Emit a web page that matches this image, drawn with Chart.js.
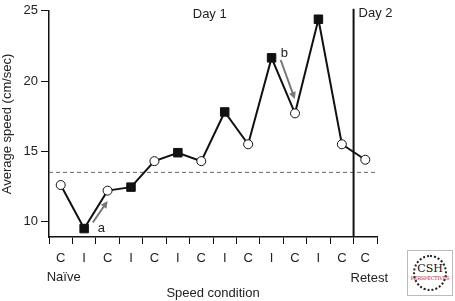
<!DOCTYPE html>
<html>
<head>
<meta charset="utf-8">
<script src="https://cdn.jsdelivr.net/npm/chart.js@4/dist/chart.umd.min.js"></script>
<style>
  body { margin: 0; background: #fff; }
  #wrap { position: relative; width: 455px; height: 301px; }
  #logo { position: absolute; left: 407px; top: 250px; width: 44px; height: 44px;
          border: 1px solid #bbb; background: #fff; font-family: "DejaVu Serif", serif; }
  #ring { position: absolute; left: 5px; top: 4px; width: 30px; height: 32px;
          border: 2px dotted #222; border-radius: 50%; }
  #csh { position: absolute; left: 0; width: 44px; top: 11px; text-align: center;
         font-size: 11px; color: #111; }
  #persp { position: absolute; left: 0; width: 44px; top: 24px; text-align: center;
           font-size: 5px; color: #b3262a; letter-spacing: -0.2px; }
</style>
</head>
<body>
<div id="wrap">
  <canvas id="speedChart" width="455" height="301"></canvas>
  <div id="logo"><div id="ring"></div><div id="csh">CSH</div><div id="persp">PERSPECTIVES</div></div>
</div>
<script>
    // 조건 (C = control, I = ...) 과 평균 속도
    const conditions = ['C', 'I', 'C', 'I', 'C', 'I', 'C', 'I', 'C', 'I', 'C', 'I', 'C', 'C'];
    const speeds = [12.6, 9.5, 12.2, 12.45, 14.3, 14.9, 14.3, 17.8, 15.5, 21.65, 17.7, 24.4, 15.5, 14.4];
    const yTicks = [10, 15, 20, 25];
    const baseline = 13.5;
    const dayBreak = 12.5;   // Day 1 / Day 2 경계 (카테고리 인덱스)

    // 화살표 주석 (인덱스, 값)
    const arrows = [
        { label: 'a', from: [1.37, 9.93], to: [2.0, 11.47], text: [1.58, 9.5] },
        { label: 'b', from: [9.39, 21.5], to: [9.99, 18.72], text: [9.39, 22.0] }
    ];

    const FONT = '"Liberation Sans", Arial, Helvetica, sans-serif';
    const TXT = '#222';

    const annotations = {
        id: 'annotations',
        beforeDatasetsDraw(chart) {
            const { ctx, chartArea, scales: { x, y } } = chart;
            ctx.save();
            // 기준 점선
            ctx.strokeStyle = '#666';
            ctx.lineWidth = 1;
            ctx.setLineDash([4, 3]);
            const by = y.getPixelForValue(baseline);
            ctx.beginPath();
            ctx.moveTo(chartArea.left, by);
            ctx.lineTo(chartArea.right, by);
            ctx.stroke();
            ctx.setLineDash([]);

            // 날짜 구분선
            const dx = x.getPixelForValue(dayBreak);
            ctx.strokeStyle = '#111';
            ctx.lineWidth = 2;
            ctx.beginPath();
            ctx.moveTo(dx, chartArea.top - 2);
            ctx.lineTo(dx, chartArea.bottom);
            ctx.stroke();
            ctx.restore();
        },
        afterDatasetsDraw(chart) {
            const { ctx, chartArea, scales: { x, y } } = chart;
            ctx.save();
            ctx.font = '13px ' + FONT;
            ctx.fillStyle = TXT;
            ctx.textBaseline = 'middle';

            // 화살표
            arrows.forEach(a => {
                const x1 = x.getPixelForValue(a.from[0]), y1 = y.getPixelForValue(a.from[1]);
                const x2 = x.getPixelForValue(a.to[0]), y2 = y.getPixelForValue(a.to[1]);
                const ang = Math.atan2(y2 - y1, x2 - x1);
                ctx.strokeStyle = '#777';
                ctx.fillStyle = '#777';
                ctx.lineWidth = 2;
                ctx.beginPath();
                ctx.moveTo(x1, y1);
                ctx.lineTo(x2 - 4 * Math.cos(ang), y2 - 4 * Math.sin(ang));
                ctx.stroke();
                ctx.beginPath();
                ctx.moveTo(x2, y2);
                ctx.lineTo(x2 - 7 * Math.cos(ang) + 3.5 * Math.sin(ang), y2 - 7 * Math.sin(ang) - 3.5 * Math.cos(ang));
                ctx.lineTo(x2 - 7 * Math.cos(ang) - 3.5 * Math.sin(ang), y2 - 7 * Math.sin(ang) + 3.5 * Math.cos(ang));
                ctx.closePath();
                ctx.fill();
                ctx.fillStyle = TXT;
                ctx.textAlign = 'left';
                ctx.fillText(a.label, x.getPixelForValue(a.text[0]), y.getPixelForValue(a.text[1]));
            });

            // Day 라벨
            ctx.fillStyle = TXT;
            ctx.textAlign = 'center';
            ctx.fillText('Day 1', x.getPixelForValue(6.36), chartArea.top + 4);
            ctx.textAlign = 'left';
            ctx.fillText('Day 2', x.getPixelForValue(dayBreak) + 5, chartArea.top + 3);

            // Naïve / Retest
            ctx.textAlign = 'center';
            ctx.fillText('Naïve', x.getPixelForValue(0) + 3, chartArea.bottom + 40);
            ctx.fillText('Retest', x.getPixelForValue(conditions.length - 1) + 4, chartArea.bottom + 41);
            ctx.restore();
        }
    };

    const ctx = document.getElementById('speedChart').getContext('2d');

    new Chart(ctx, {
        type: 'line',
        data: {
            labels: conditions,
            datasets: [{
                data: speeds,
                borderColor: '#111',
                borderWidth: 2,
                pointStyle: conditions.map(c => c === 'C' ? 'circle' : 'rect'),
                pointRadius: conditions.map(c => c === 'C' ? 4.5 : 6),
                pointBackgroundColor: conditions.map(c => c === 'C' ? '#fff' : '#111'),
                pointBorderColor: '#111',
                pointBorderWidth: 1,
                tension: 0
            }]
        },
        options: {
            responsive: false,
            animation: false,
            events: [],
            layout: { padding: { top: 6, right: 78, bottom: 0, left: 0 } },
            plugins: { legend: { display: false }, tooltip: { enabled: false } },
            scales: {
                x: {
                    offset: true,
                    grid: { offset: true, drawOnChartArea: false, drawTicks: true, tickLength: 7, color: '#111', lineWidth: 1 },
                    border: { display: true, color: '#111', width: 1.5 },
                    ticks: { color: TXT, font: { family: FONT, size: 13 }, padding: 7, autoSkip: false, maxRotation: 0 },
                    title: { display: true, text: 'Speed condition', color: TXT, font: { family: FONT, size: 13 }, padding: { top: 0, bottom: 0 } },
                    afterFit(scale) { scale.height = 64; }
                },
                y: {
                    min: 8.9,
                    max: 25,
                    afterBuildTicks(scale) { scale.ticks = yTicks.map(v => ({ value: v })); },
                    grid: { drawOnChartArea: false, drawTicks: true, tickLength: 8, color: '#111', lineWidth: 1 },
                    border: { display: true, color: '#111', width: 1.5 },
                    ticks: { color: TXT, font: { family: FONT, size: 13 }, padding: 3 },
                    title: { display: true, text: 'Average speed (cm/sec)', color: TXT, font: { family: FONT, size: 13 }, padding: { top: 0, bottom: 0 } },
                    afterFit(scale) { scale.width = 49; }
                }
            }
        },
        plugins: [annotations]
    });
</script>
</body>
</html>
